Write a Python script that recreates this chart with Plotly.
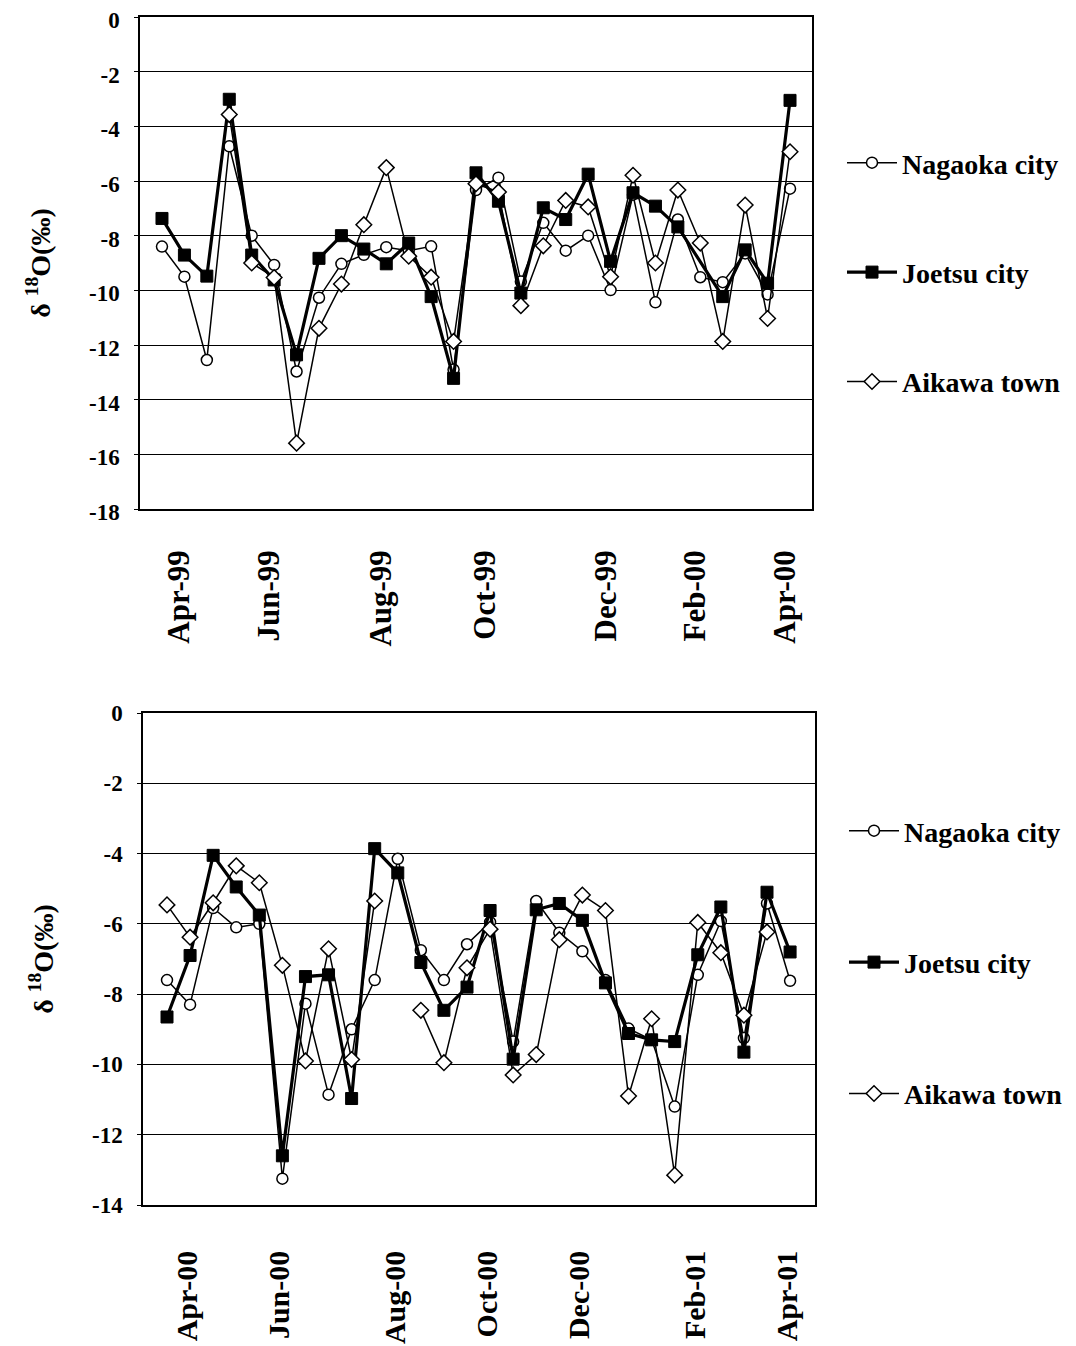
import plotly.graph_objects as go

# ---------------- data ----------------
series_names = ["Nagaoka city", "Joetsu city", "Aikawa town"]

top_tick_pos = [1, 5, 10, 14.6, 20, 24, 28]
top_tick_text = ["Apr-99", "Jun-99", "Aug-99", "Oct-99", "Dec-99", "Feb-00", "Apr-00"]
bot_tick_pos = [1, 5, 10, 14, 18, 23, 27]
bot_tick_text = ["Apr-00", "Jun-00", "Aug-00", "Oct-00", "Dec-00", "Feb-01", "Apr-01"]

top_y_ticks = [0, -2, -4, -6, -8, -10, -12, -14, -16, -18]
bot_y_ticks = [0, -2, -4, -6, -8, -10, -12, -14]

top_nagaoka = [-8.40, -9.50, -12.55, -4.73, -8.00, -9.07, -12.97, -10.27, -9.03, -8.70,
               -8.42, -8.55, -8.39, -12.90, -6.33, -5.88, -9.68, -7.53, -8.55, -8.00,
               -9.99, -6.50, -10.44, -7.41, -9.52, -9.70, -8.65, -10.15, -6.28]
top_joetsu = [-7.37, -8.71, -9.48, -3.01, -8.71, -9.62, -12.36, -8.83, -8.00, -8.49,
              -9.03, -8.27, -10.23, -13.22, -5.70, -6.74, -10.10, -6.98, -7.41, -5.75,
              -8.94, -6.43, -6.92, -7.68, None, -10.23, -8.52, -9.74, -3.05]
top_aikawa = [None, None, None, -3.57, -9.00, -9.53, -15.59, -11.39, -9.77, -7.60,
              -5.51, -8.75, -9.52, -11.87, -6.10, -6.40, -10.56, -8.37, -6.71, -6.95,
              -9.50, -5.79, -9.00, -6.33, -8.27, -11.87, -6.88, -11.03, -4.93]

bot_nagaoka = [-7.60, -8.30, -5.55, -6.10, -6.00, -13.25, -8.27, -10.86, -9.00, -7.60,
               -4.15, -6.75, -7.60, -6.58, -5.95, -9.35, -5.35, -6.25, -6.78, -7.60,
               -8.98, -9.30, -11.20, -7.45, -5.92, -9.25, -5.42, -7.62]
bot_joetsu = [-8.65, -6.90, -4.05, -4.95, -5.75, -12.60, -7.50, -7.45, -10.97, -3.86,
              -4.55, -7.10, -8.46, -7.80, -5.62, -9.85, -5.60, -5.42, -5.90, -7.68,
              -9.12, -9.30, -9.35, -6.88, -5.52, -9.65, -5.10, -6.80]
bot_aikawa = [-5.46, -6.38, -5.40, -4.35, -4.83, -7.18, -9.90, -6.71, -9.86, -5.35,
              None, -8.46, -9.95, -7.25, -6.15, -10.30, -9.72, -6.45, -5.18, -5.62,
              -10.90, -8.70, -13.15, -5.96, -6.82, -8.60, -6.23, None]

# ---------------- figure ----------------
PAGE_W, PAGE_H = 1076, 1346
OFF = 8                      # default body margin of the html page
W, H = PAGE_W - OFF, PAGE_H - OFF
SERIF = "Liberation Serif"

styles = {
    "Nagaoka city": dict(line=dict(color="black", width=1.5),
                         marker=dict(symbol="circle", size=11, color="white",
                                     line=dict(color="black", width=1.5))),
    "Joetsu city": dict(line=dict(color="black", width=3.2),
                        marker=dict(symbol="square", size=12, color="black",
                                    line=dict(color="black", width=1))),
    "Aikawa town": dict(line=dict(color="black", width=1.5),
                        marker=dict(symbol="diamond", size=12, color="white",
                                    line=dict(color="black", width=1.5))),
}

fig = go.Figure()

panels = [
    ("x", "y", "legend", [top_nagaoka, top_joetsu, top_aikawa], True),
    ("x2", "y2", "legend2", [bot_nagaoka, bot_joetsu, bot_aikawa], False),
]
for xa, ya, leg, data, gaps in panels:
    for name, vals in zip(series_names, data):
        fig.add_trace(go.Scatter(
            x=list(range(len(vals))), y=vals, name=name, mode="lines+markers",
            xaxis=xa, yaxis=ya, legend=leg, legendgroup=leg + name,
            connectgaps=gaps, **styles[name]))

def px(v):
    return (v - OFF) / W

def py(v):
    return 1 - (v - OFF) / H

ytickfont = dict(family=SERIF, size=23, color="black", weight="bold")
titlefont = dict(family=SERIF, size=28, color="black", weight="bold")
legfont = dict(family=SERIF, size=28, color="black", weight="bold")

common_x = dict(showgrid=False, zeroline=False, showline=True, mirror=True,
                linecolor="black", linewidth=1.5, tickangle=-90, ticks="",
                tickmode="array", automargin=False, ticklabeloverflow="allow")
common_y = dict(showgrid=True, gridcolor="black", gridwidth=1, zeroline=False,
                showline=True, mirror=True, linecolor="black", linewidth=1.5,
                ticks="outside", ticklen=4, tickcolor="black", tickfont=ytickfont,
                tickmode="array", ticklabelstandoff=10, automargin=False,
                ticklabeloverflow="allow",
                title=dict(text="δ <sup>18</sup>O(‰)", font=titlefont, standoff=30))

fig.update_layout(
    width=W, height=H, margin=dict(l=0, r=0, t=0, b=0),
    paper_bgcolor="white", plot_bgcolor="white", showlegend=True,
    xaxis=dict(domain=[px(140), px(812)], range=[-0.98, 28.98], anchor="y",
               tickvals=top_tick_pos, ticktext=top_tick_text,
               tickfont=dict(family=SERIF, size=31, color="black", weight="bold"),
               ticklabelstandoff=27, ticklabelshift=-5, **common_x),
    yaxis=dict(domain=[py(509), py(17)], range=[-18, 0], anchor="x",
               tickvals=top_y_ticks, ticktext=[str(v) for v in top_y_ticks],
               ticklabelshift=3, **common_y),
    xaxis2=dict(domain=[px(143), px(815)], range=[-1.04, 28.08], anchor="y2",
                tickvals=bot_tick_pos, ticktext=bot_tick_text,
                tickfont=dict(family=SERIF, size=30, color="black", weight="bold"),
                ticklabelstandoff=32, ticklabelshift=-3, **common_x),
    yaxis2=dict(domain=[py(1205), py(713)], range=[-14, 0], anchor="x2",
                tickvals=bot_y_ticks, ticktext=[str(v) for v in bot_y_ticks], **common_y),
    legend=dict(x=px(842), y=py(138), xanchor="left", yanchor="top",
                font=legfont, tracegroupgap=70, bgcolor="rgba(0,0,0,0)", itemwidth=50),
    legend2=dict(x=px(844), y=py(806), xanchor="left", yanchor="top",
                 font=legfont, tracegroupgap=92, bgcolor="rgba(0,0,0,0)", itemwidth=50),
)

fig.write_html("out.html")
